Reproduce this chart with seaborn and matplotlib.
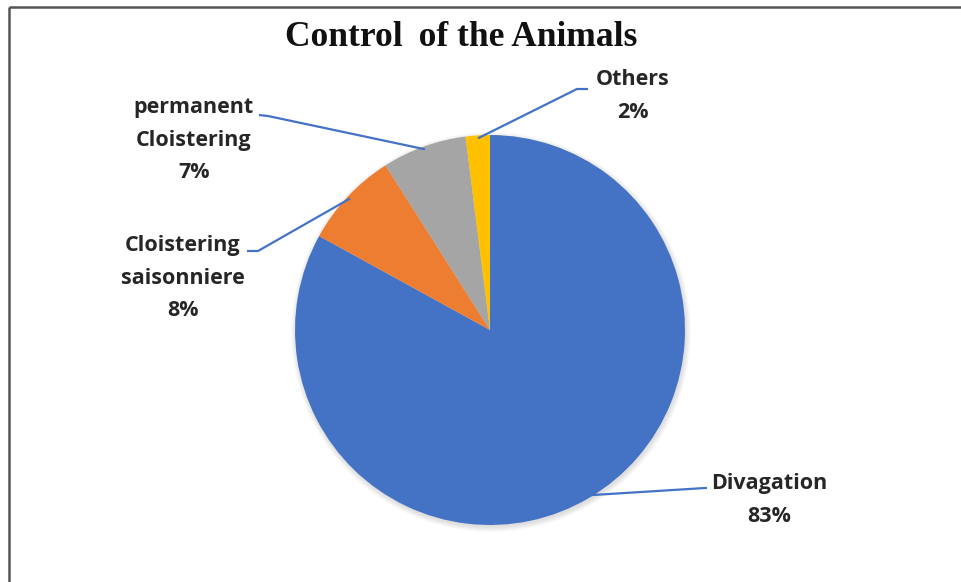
import numpy as np
import matplotlib
matplotlib.use("Agg")
import matplotlib.pyplot as plt
import seaborn as sns

# Data
categories = ["Divagation", "Cloistering\nsaisonniere", "permanent\nCloistering", "Others"]
shares = [83, 8, 7, 2]
colors = ["#4472C4", "#ED7D31", "#A5A5A5", "#FFC000"]

# Label placement (figure pixel coordinates, y measured from top)
label_xy = [(769, 500), (183, 278), (194, 140), (633, 96)]
elbow_xy = [(705, 488), (258, 251), (268, 116), (577, 89)]
end_xy = [(707, 488), (247, 251), (259, 115), (588, 89)]

W, H = 962, 582
sns.set_theme(style="white")
plt.rcParams["font.family"] = ["Open Sans", "DejaVu Sans"]

fig = plt.figure(figsize=(W / 100, H / 100), dpi=100)
ax = fig.add_axes([0, 0, 1, 1])

cx, cy, r = 490, H - 330, 195

# soft drop shadow around the pie
for k in range(8):
    ax.add_patch(plt.Circle((cx + 1, cy - 2), r + 5 - k * 0.7, color="#000000",
                            alpha=0.014, lw=0, zorder=1))

wedges, _ = ax.pie(shares, colors=colors, startangle=90, counterclock=False,
                   center=(cx, cy), radius=r,
                   wedgeprops=dict(linewidth=0, zorder=2))

ax.set_xlim(0, W)
ax.set_ylim(0, H)
ax.set_aspect("equal")
ax.axis("off")

total = sum(shares)
for w, cat, val, lab, elb, end in zip(wedges, categories, shares, label_xy, elbow_xy, end_xy):
    mid = np.deg2rad((w.theta1 + w.theta2) / 2)
    ax_x = cx + 0.985 * r * np.cos(mid)
    ax_y = cy + 0.985 * r * np.sin(mid)
    xs = [ax_x, elb[0], end[0]]
    ys = [ax_y, H - elb[1], H - end[1]]
    ax.plot(xs, ys, color="#4472C4", lw=1.6, zorder=3, solid_capstyle="butt")
    pct = round(val / total * 100)
    ax.text(lab[0], H - lab[1], f"{cat}\n{pct}%", ha="center", va="center",
            fontsize=15.5, fontweight="bold", color="#262626", linespacing=1.7, zorder=4)

# Title
ax.text(461, H - 37, "Control \u2009of the Animals", ha="center", va="center",
        fontsize=25.5, fontweight="bold", family=["Liberation Serif", "DejaVu Serif"],
        color="#111111")

# Frame lines at top and left
ax.plot([9, W], [H - 7, H - 7], color="#555555", lw=1.8, solid_capstyle="butt")
ax.plot([9, 9], [H - 7, 0], color="#555555", lw=1.8, solid_capstyle="butt")

fig.savefig("out.png", dpi=100)
